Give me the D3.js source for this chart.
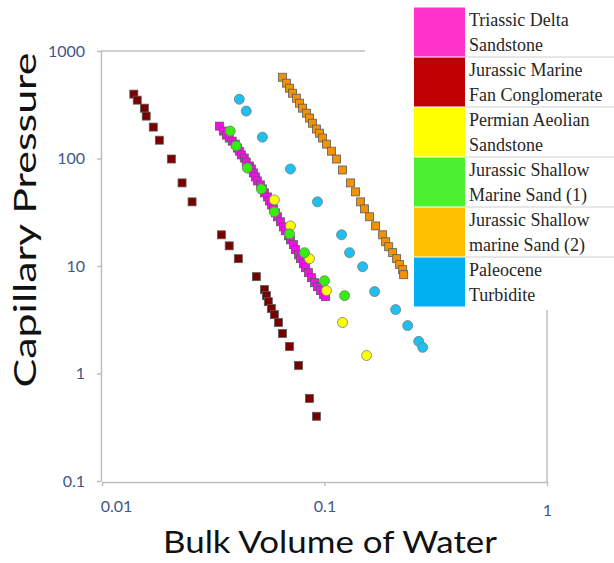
<!DOCTYPE html>
<html>
<head>
<meta charset="utf-8">
<script src="https://cdn.jsdelivr.net/npm/d3@7"></script>
<style>
  body { margin: 0; background: #fff; }
</style>
</head>
<body>
<svg id="chart" width="614" height="563"></svg>
<script>
// axis ticks
const xTicks = [0.01, 0.1, 1];
const xTickLabels = ["0.01", "0.1", "1"];
const yTicks = [0.1, 1, 10, 100, 1000];
const yTickLabels = ["0.1", "1", "10", "100", "1000"];

// series data (bulk volume of water, capillary pressure)
const triassicX = [0.0337, 0.0351, 0.0362, 0.0373, 0.0385, 0.0397, 0.0406, 0.0414, 0.0423, 0.0436, 0.0445,
  0.0460, 0.0469, 0.0479, 0.0489, 0.0499, 0.0515, 0.0526, 0.0537, 0.0554, 0.0565, 0.0577, 0.0589, 0.0602,
  0.0614, 0.0634, 0.0654, 0.0667, 0.0689, 0.0703, 0.0725, 0.0740, 0.0764, 0.0780, 0.0804, 0.0821, 0.0847,
  0.0874, 0.0902, 0.0930, 0.0959, 0.0990, 0.1010];
const triassicY = [200, 180, 165, 155, 145, 136, 125, 117, 108, 101, 92.8, 85.2, 79.9, 73.4, 67.4, 61.9,
  56.8, 52.1, 47.9, 43.9, 40.3, 37.0, 34.0, 31.2, 28.7, 25.8, 23.1, 21.3, 19.1, 17.5, 15.8, 14.2, 12.7,
  11.7, 10.5, 9.64, 8.67, 7.79, 7.00, 6.43, 5.90, 5.42, 5.19];

const marineX = [0.0139, 0.0144, 0.0155, 0.0158, 0.0170, 0.0181, 0.0205, 0.0229, 0.0254, 0.0344, 0.0373,
  0.0410, 0.0494, 0.0537, 0.0548, 0.0559, 0.0577, 0.0595, 0.0621, 0.0647, 0.0696, 0.0764, 0.0856, 0.0920];
const marineY = [397, 349, 294, 248, 196, 148, 98.9, 59.3, 39.5, 19.5, 15.4, 11.7, 7.96, 6.03, 5.30, 4.66,
  4.02, 3.53, 2.98, 2.36, 1.78, 1.19, 0.587, 0.40];

const permianX = [0.0595, 0.0703, 0.0856, 0.1021, 0.1205, 0.1546];
const permianY = [41.2, 23.6, 11.7, 5.90, 2.98, 1.47];

const shallow1X = [0.0377, 0.0401, 0.0450, 0.0520, 0.0595, 0.0696, 0.0813, 0.100, 0.1231];
const shallow1Y = [180, 131, 81.6, 52.1, 31.9, 19.9, 13.3, 7.30, 5.30];

const shallow2X = [0.0647, 0.0674, 0.0696, 0.0718, 0.0748, 0.0772, 0.0796, 0.0830, 0.0856, 0.0883, 0.0920,
  0.0950, 0.0980, 0.1021, 0.1075, 0.1133, 0.1205, 0.1310, 0.1379, 0.1453, 0.1514, 0.1595, 0.1697, 0.1825,
  0.1883, 0.1943, 0.2025, 0.2110, 0.2177, 0.2246, 0.2269];
const shallow2Y = [570, 502, 451, 405, 364, 327, 294, 264, 238, 213, 188, 172, 155, 136, 117, 98.9, 78.2,
  59.3, 48.9, 39.5, 34.0, 28.7, 23.6, 19.5, 16.8, 15.1, 13.3, 11.7, 10.3, 9.24, 8.30];

const paleoceneX = [0.0414, 0.0445, 0.0526, 0.0703, 0.0930, 0.1193, 0.1296, 0.1484, 0.1680, 0.2088, 0.2365,
  0.2651, 0.2763];
const paleoceneY = [356, 276, 158, 79.9, 39.5, 19.5, 13.3, 9.85, 5.78, 3.93, 2.79, 1.99, 1.75];

const seriesNames = [
  ["Triassic Delta", "Sandstone"],
  ["Jurassic Marine", "Fan Conglomerate"],
  ["Permian Aeolian", "Sandstone"],
  ["Jurassic Shallow", "Marine Sand (1)"],
  ["Jurassic Shallow", "marine Sand (2)"],
  ["Paleocene", "Turbidite"]
];

const series = [
  { name: seriesNames[0], xs: triassicX, ys: triassicY, shape: "square", fill: "#f010e8", key: "#ff33cc" },
  { name: seriesNames[1], xs: marineX, ys: marineY, shape: "square", fill: "#7a0000", key: "#c00000" },
  { name: seriesNames[2], xs: permianX, ys: permianY, shape: "circle", fill: "#ffff00", key: "#ffff00" },
  { name: seriesNames[3], xs: shallow1X, ys: shallow1Y, shape: "circle", fill: "#33ee10", key: "#4cef32" },
  { name: seriesNames[4], xs: shallow2X, ys: shallow2Y, shape: "square", fill: "#f39200", key: "#ffc000" },
  { name: seriesNames[5], xs: paleoceneX, ys: paleoceneY, shape: "circle", fill: "#1ec0f0", key: "#00b0f0" }
];

const svg = d3.select("#chart");
const axisColor = "#bfbfbf";
const labelColor = "#41578a";

const x = d3.scaleLog().domain([0.01, 1]).range([102, 547]);
const y = d3.scaleLog().domain([0.1, 1000]).range([481, 51]);

// plot border (top and right parts)
svg.append("line")
  .attr("x1", 101).attr("x2", 365).attr("y1", 51).attr("y2", 51)
  .attr("stroke", axisColor).attr("stroke-width", 1.5);
svg.append("line")
  .attr("x1", 547).attr("x2", 547).attr("y1", 310).attr("y2", 482)
  .attr("stroke", axisColor).attr("stroke-width", 1.5);

const yAxis = svg.append("g")
  .attr("transform", "translate(101,0)")
  .call(d3.axisLeft(y).tickValues(yTicks).tickFormat((d, i) => yTickLabels[i])
    .tickSize(4).tickSizeOuter(0).tickPadding(12));

const xAxis = svg.append("g")
  .attr("transform", "translate(0,482)")
  .call(d3.axisBottom(x).tickValues(xTicks).tickFormat((d, i) => xTickLabels[i])
    .tickSize(4).tickSizeOuter(0).tickPadding(15));

[yAxis, xAxis].forEach((g) => {
  g.select(".domain").attr("stroke", axisColor).attr("stroke-width", 1.5);
  g.selectAll(".tick line").attr("stroke", axisColor).attr("stroke-width", 1.5);
  g.selectAll("text")
    .attr("fill", labelColor)
    .style("font-family", "Lato, 'Open Sans', sans-serif")
    .style("font-size", "16px");
});
xAxis.selectAll(".tick text")
  .attr("dx", (d) => (d === 0.01 ? 14 : 0))
  .attr("dy", (d) => (d === 1 ? "0.95em" : "0.71em"));

// axis titles
svg.append("text")
  .attr("transform", "translate(36,220) rotate(-90)")
  .attr("text-anchor", "middle")
  .attr("textLength", 335).attr("lengthAdjust", "spacingAndGlyphs")
  .style("font-family", "Lato, 'Open Sans', sans-serif")
  .style("font-size", "31px")
  .attr("fill", "#111")
  .text("Capillary Pressure");

svg.append("text")
  .attr("x", 330).attr("y", 553)
  .attr("text-anchor", "middle")
  .attr("textLength", 334).attr("lengthAdjust", "spacingAndGlyphs")
  .style("font-family", "Lato, 'Open Sans', sans-serif")
  .style("font-size", "30px")
  .attr("fill", "#111")
  .text("Bulk Volume of Water");

// markers
const marks = svg.append("g");
series.forEach((s) => {
  const pts = s.xs.map((v, i) => [v, s.ys[i]]);
  const g = marks.append("g");
  if (s.shape === "square") {
    g.selectAll("rect").data(pts).enter().append("rect")
      .attr("x", (d) => x(d[0]) - 4)
      .attr("y", (d) => y(d[1]) - 4)
      .attr("width", 8).attr("height", 8)
      .attr("fill", s.fill)
      .attr("stroke", "#5a5a5a").attr("stroke-width", 0.8);
  } else {
    g.selectAll("circle").data(pts).enter().append("circle")
      .attr("cx", (d) => x(d[0]))
      .attr("cy", (d) => y(d[1]))
      .attr("r", 5)
      .attr("fill", s.fill)
      .attr("stroke", "#7a7a7a").attr("stroke-width", 0.8);
  }
});

// legend
const legend = svg.append("g");
legend.append("rect")
  .attr("x", 414).attr("y", 7).attr("width", 200).attr("height", 300)
  .attr("fill", "#fff");

series.forEach((s, i) => {
  const top = 7 + i * 50;
  legend.append("rect")
    .attr("x", 414).attr("y", top + 0.5)
    .attr("width", 51).attr("height", 49)
    .attr("fill", s.key);
  if (i > 0) {
    legend.append("line")
      .attr("x1", 465).attr("x2", 614)
      .attr("y1", top).attr("y2", top)
      .attr("stroke", "#cfcfcf").attr("stroke-width", 1);
  }
  s.name.forEach((line, j) => {
    legend.append("text")
      .attr("x", 469).attr("y", top + 19 + j * 25)
      .style("font-family", "'Liberation Serif', 'DejaVu Serif', serif")
      .style("font-size", "18px")
      .attr("fill", "#262626")
      .text(line);
  });
});
</script>
</body>
</html>
